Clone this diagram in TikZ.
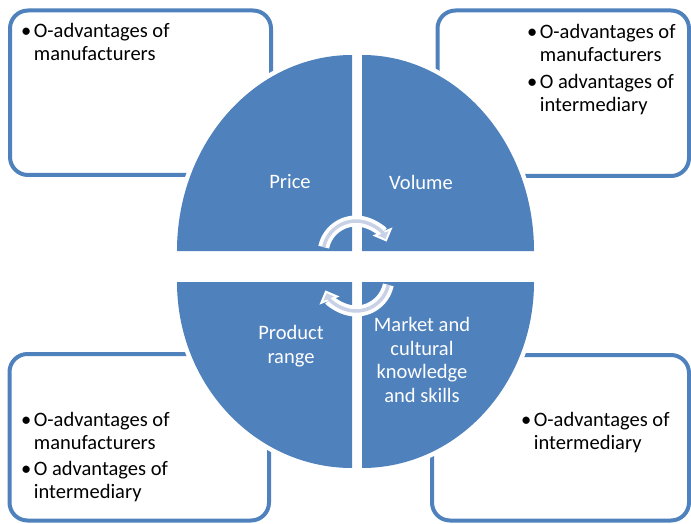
\documentclass[tikz,border=0pt]{standalone}
\usepackage{fontspec}
\setmainfont{Carlito}
\usetikzlibrary{arrows.meta}
\definecolor{qblue}{RGB}{79,129,189}
\definecolor{arclight}{RGB}{200,209,230}
\newcommand\blist[1]{\begin{tabular}[t]{@{}l@{\hspace{2.5pt}}l@{}}#1\end{tabular}}

\begin{document}
\begin{tikzpicture}[x=1pt, y=-1pt,
    box/.style={draw=qblue, line width=4pt, rounded corners=18pt},
    quad/.style={fill=qblue, preaction={draw=white, line width=9pt}},
    btext/.style={anchor=base west, inner sep=0pt, font=\fontsize{20.5}{23}\selectfont},
    qtext/.style={text=white, align=center, inner sep=0pt, font=\fontsize{20.5}{23.5}\selectfont},
    arcout/.style={draw=white, line width=11pt, -{Triangle[length=11pt, width=21pt]}},
    arcin/.style={draw=arclight, line width=3.5pt, shorten >=3pt, -{Triangle[length=6pt, width=11pt]}}]
    \useasboundingbox (0,0) rectangle (691,524);
    % boxes behind the circle
    \draw[box] (10,10.5) rectangle (271,175);
    \draw[box] (437.5,10.5) rectangle (689,176);
    \draw[box] (9.5,354) rectangle (269,520.5);
    \draw[box] (432,355) rectangle (689,520.5);
% four quarters
    \path[quad] (352,251) -- (177,251) arc[start angle=180, end angle=270, x radius=175, y radius=196] -- cycle;
    \path[quad] (362,251) -- (362,55) arc[start angle=270, end angle=360, x radius=172, y radius=196] -- cycle;
    \path[quad] (352,282) -- (352,468) arc[start angle=90, end angle=180, x radius=175, y radius=186] -- cycle;
    \path[quad] (362,282) -- (534,282) arc[start angle=0, end angle=90, x radius=172, y radius=186] -- cycle;
    % \draw[red] (356,254) circle [radius=33];
    % turning arrows
    \draw[arcout] (356,254) ++(192:33) arc[start angle=192, end angle=338, radius=33];
    \draw[arcin] (356,254) ++(192:33) arc[start angle=192, end angle=338, radius=33];
    \draw[arcout] (356,278) ++(12:33) arc[start angle=12, end angle=158, radius=33];
    \draw[arcin] (356,278) ++(12:33) arc[start angle=12, end angle=158, radius=33];
% labels in the quarters
    \node[qtext] (price) at (290,182) {Price};
    \node[qtext] (volume) at (421,182) {Volume};
    \node[qtext] (range) at (291,346) {Product\\range};
    \node[qtext] (market) at (422,360) {Market and\\cultural\\knowledge\\and skills};
    % bullet texts
    \node[btext] (tlist) at (21,38) {\blist{\textbullet & O-advantages of\\ & manufacturers}};
    \node[btext] (trlist) at (527,39) {\blist{\textbullet & O-advantages of\\ & manufacturers\\[3.5pt]
        \textbullet & O advantages of\\ & intermediary}};
    \node[btext] (bllist) at (21,426) {\blist{\textbullet & O-advantages of\\ & manufacturers\\[3.5pt]
        \textbullet & O advantages of\\ & intermediary}};
    \node[btext] (brlist) at (521,426) {\blist{\textbullet & O-advantages of\\ & intermediary}};
\end{tikzpicture}
\end{document}
